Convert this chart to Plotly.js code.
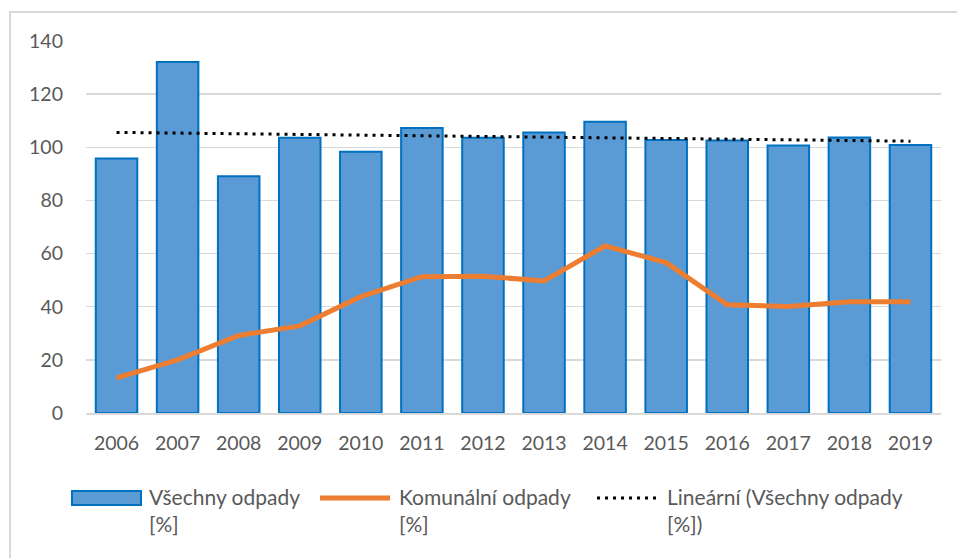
<!DOCTYPE html>
<html>
<head>
<meta charset="utf-8">
<script src="https://cdn.plot.ly/plotly-3.0.1.min.js"></script>
<style>
  html, body { margin: 0; padding: 0; background: #ffffff; }
  #chart { position: absolute; left: 0; top: 0; width: 957px; height: 558px; }
  #frame { position: absolute; left: 9px; top: 11px; width: 960px; height: 560px;
           border-left: 2px solid #d9d9d9; border-top: 2px solid #d9d9d9; pointer-events: none; }
</style>
</head>
<body>
<div id="chart"></div>
<div id="frame"></div>
<script>
// ---- data ----
const years = ["2006","2007","2008","2009","2010","2011","2012","2013","2014","2015","2016","2017","2018","2019"];
const vsechnyOdpady = [95.8, 132.1, 89.1, 103.6, 98.3, 107.3, 103.6, 105.6, 109.6, 102.7, 102.6, 100.7, 103.7, 100.9];
const komunalniOdpady = [13.2, 20.0, 29.2, 32.8, 43.8, 51.3, 51.5, 49.7, 62.9, 56.6, 40.7, 40.1, 41.9, 41.9];
const trendYears = ["2006", "2019"];
const trendValues = [105.6, 102.3];
const yTicks = [0, 20, 40, 60, 80, 100, 120, 140];
const legendNames = ["Všechny odpady<br>[%]", "Komunální odpady<br>[%]", "Lineární (Všechny odpady<br>[%])"];

// ---- layout helpers (pixel -> paper) ----
const W = 957, H = 558;
const M = { l: 86, r: 16, t: 41, b: 145 };
const PW = W - M.l - M.r, PH = H - M.t - M.b;
const px = x => (x - M.l) / PW;
const py = y => (H - M.b - y) / PH;

const textColor = '#595959';
const fontFam = 'Lato, "Open Sans", sans-serif';

const traces = [
  {
    type: 'bar', x: years, y: vsechnyOdpady, name: legendNames[0],
    marker: { color: '#5b9bd5', line: { color: '#0070c0', width: 2 } },
    showlegend: false, hoverinfo: 'x+y'
  },
  {
    type: 'scatter', mode: 'lines', x: years, y: komunalniOdpady, name: legendNames[1],
    line: { color: '#ed7d31', width: 5, shape: 'linear' },
    showlegend: false
  },
  {
    type: 'scatter', mode: 'lines', x: trendYears, y: trendValues, name: legendNames[2],
    line: { color: '#000000', width: 3, dash: '3px,5px' },
    showlegend: false
  }
];

const shapes = [
  { type: 'rect', xref: 'paper', yref: 'paper', x0: px(72), x1: px(141), y0: py(491), y1: py(505),
    fillcolor: '#5b9bd5', line: { color: '#0070c0', width: 2 } },
  { type: 'line', xref: 'paper', yref: 'paper', x0: px(320), x1: px(390), y0: py(498), y1: py(498),
    line: { color: '#ed7d31', width: 5 } },
  { type: 'line', xref: 'paper', yref: 'paper', x0: px(597), x1: px(660), y0: py(498), y1: py(498),
    line: { color: '#000000', width: 3, dash: '3px,5px' } }
];

const legendX = [147, 397, 665];
const annotations = legendNames.map((t, i) => ({
  xref: 'paper', yref: 'paper', x: px(legendX[i]), y: py(510),
  xanchor: 'left', yanchor: 'middle', align: 'left', showarrow: false,
  text: t, font: { family: fontFam, size: 21, color: textColor }
}));

const layout = {
  width: W, height: H,
  margin: M,
  paper_bgcolor: '#ffffff', plot_bgcolor: '#ffffff',
  bargap: 0.32,
  showlegend: false,
  font: { family: fontFam, size: 19.5, color: textColor },
  xaxis: {
    type: 'category', showgrid: false, zeroline: false,
    showline: true, linecolor: '#d9d9d9', linewidth: 2,
    ticks: '', ticklabelstandoff: 12,
    tickfont: { family: fontFam, size: 19.5, color: textColor }
  },
  yaxis: {
    range: [0, 140], tickvals: yTicks, ticktext: yTicks.map(String),
    showgrid: true, gridcolor: '#d9d9d9', gridwidth: 1.5,
    zeroline: false, showline: false, ticks: '', ticklabelstandoff: 22,
    tickfont: { family: fontFam, size: 19.5, color: textColor }
  },
  shapes: shapes,
  annotations: annotations
};

Plotly.newPlot('chart', traces, layout, { displayModeBar: false, staticPlot: true });
</script>
</body>
</html>
